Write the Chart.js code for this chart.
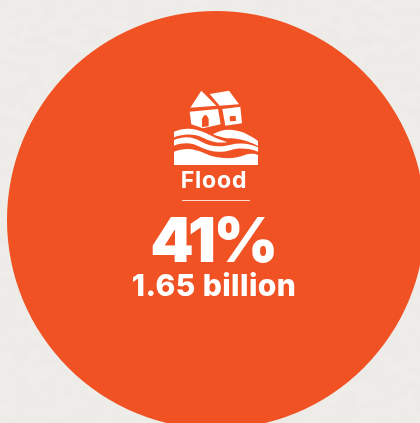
<!DOCTYPE html>
<html>
<head>
<meta charset="utf-8">
<title>Flood</title>
<script src="https://cdn.jsdelivr.net/npm/chart.js@4/dist/chart.umd.min.js"></script>
<style>
    html, body { margin: 0; padding: 0; width: 420px; height: 423px; overflow: hidden; background: #efedea; }
    #paper { position: absolute; left: 0; top: 0; width: 420px; height: 423px; }
    #hazard-chart { position: absolute; left: 0; top: 0; }
</style>
</head>
<body>
<!-- Faint paper grain behind the disc -->
<svg id="paper" xmlns="http://www.w3.org/2000/svg">
    <filter id="grain">
        <feTurbulence type="fractalNoise" baseFrequency="0.07 0.11" numOctaves="3" seed="4"/>
        <feColorMatrix values="0 0 0 0 0.62  0 0 0 0 0.58  0 0 0 0 0.54  0.2 0 0 0 -0.07"/>
    </filter>
    <rect width="420" height="423" filter="url(#grain)"/>
</svg>
<canvas id="hazard-chart" width="440" height="440"></canvas>
<script>
const categories = ['Flood'];
const sharePercent = [41];
const peopleBillions = [1.65];

const ORANGE = '#f15223';
const WHITE = '#ffffff';

function fillPoly(ctx, pts) {
    ctx.beginPath();
    pts.forEach((p, i) => i ? ctx.lineTo(p[0], p[1]) : ctx.moveTo(p[0], p[1]));
    ctx.closePath();
    ctx.fill();
}

// House and waves, drawn at 3 units per pixel
function drawFloodIcon(ctx, x, y) {
    ctx.save();
    ctx.translate(x, y);
    ctx.scale(1 / 3, 1 / 3);
    ctx.fillStyle = WHITE;

    fillPoly(ctx, [[100, 17], [67, 68], [145, 62]]);               // left roof
    fillPoly(ctx, [[125, 27], [183, 17], [213, 58], [155, 62]]);   // right roof
    fillPoly(ctx, [[65, 80], [150, 72], [158, 118], [105, 130], [70, 118]]); // left wall
    fillPoly(ctx, [[163, 72], [217, 65], [222, 115], [172, 122]]); // right wall

    // door and window cut-outs
    ctx.fillStyle = ORANGE;
    ctx.beginPath();
    ctx.moveTo(102, 126);
    ctx.lineTo(102, 102);
    ctx.quadraticCurveTo(112, 78, 122, 102);
    ctx.lineTo(122, 124);
    ctx.closePath();
    ctx.fill();
    fillPoly(ctx, [[185, 94], [203, 93], [204, 108], [186, 109]]);

    // wave bands, top to bottom
    ctx.fillStyle = WHITE;
    const bands = [
        p => {
            p.moveTo(18, 140);
            p.bezierCurveTo(50, 125, 85, 130, 115, 145);
            p.bezierCurveTo(135, 155, 155, 165, 178, 172);
            p.bezierCurveTo(150, 175, 130, 170, 105, 158);
            p.bezierCurveTo(80, 147, 50, 145, 18, 157);
        },
        p => {
            p.moveTo(135, 148);
            p.bezierCurveTo(165, 128, 215, 125, 270, 168);
            p.lineTo(270, 183);
            p.bezierCurveTo(235, 165, 205, 160, 178, 160);
            p.bezierCurveTo(165, 158, 150, 155, 135, 148);
        },
        p => {
            p.moveTo(18, 165);
            p.bezierCurveTo(50, 152, 75, 155, 100, 170);
            p.bezierCurveTo(125, 183, 150, 188, 185, 180);
            p.bezierCurveTo(215, 172, 245, 175, 270, 187);
            p.lineTo(270, 200);
            p.bezierCurveTo(245, 190, 215, 187, 190, 195);
            p.bezierCurveTo(150, 207, 120, 197, 95, 185);
            p.bezierCurveTo(70, 172, 45, 172, 18, 182);
        },
        p => {
            p.moveTo(18, 200);
            p.bezierCurveTo(50, 187, 80, 190, 110, 205);
            p.bezierCurveTo(150, 225, 205, 222, 230, 210);
            p.bezierCurveTo(245, 205, 260, 206, 270, 210);
            p.lineTo(270, 240);
            p.lineTo(18, 240);
        }
    ];
    bands.forEach(trace => {
        ctx.beginPath();
        trace(ctx);
        ctx.closePath();
        ctx.fill();
    });

    ctx.restore();
}

const calloutPlugin = {
    id: 'callout',
    afterDraw(chart) {
        const ctx = chart.ctx;
        const cx = 214;

        drawFloodIcon(ctx, 168, 85);

        ctx.save();
        ctx.fillStyle = WHITE;
        ctx.textAlign = 'center';
        ctx.textBaseline = 'alphabetic';

        ctx.font = '700 23px Inter';
        ctx.letterSpacing = '0.8px';
        ctx.fillText(categories[0], cx, 188);

        ctx.fillStyle = 'rgba(255,255,255,0.8)';
        ctx.fillRect(182, 200, 68, 1);
        ctx.fillStyle = WHITE;

        ctx.font = '900 62px Inter';
        ctx.letterSpacing = '-2.5px';
        ctx.fillText(sharePercent[0] + '%', cx - 1, 262);

        ctx.font = '800 30px Inter';
        ctx.letterSpacing = '0.4px';
        ctx.fillText(peopleBillions[0] + ' billion', cx, 296);
        ctx.restore();
    }
};

new Chart(document.getElementById('hazard-chart'), {
    type: 'pie',
    data: {
        labels: categories,
        datasets: [{
            data: sharePercent,
            backgroundColor: ORANGE,
            borderWidth: 0
        }]
    },
    options: {
        responsive: false,
        animation: false,
        layout: { padding: { left: 7, right: 15, top: 11, bottom: 11 } },
        plugins: {
            legend: { display: false },
            tooltip: { enabled: false }
        }
    },
    plugins: [calloutPlugin]
});
</script>
</body>
</html>
